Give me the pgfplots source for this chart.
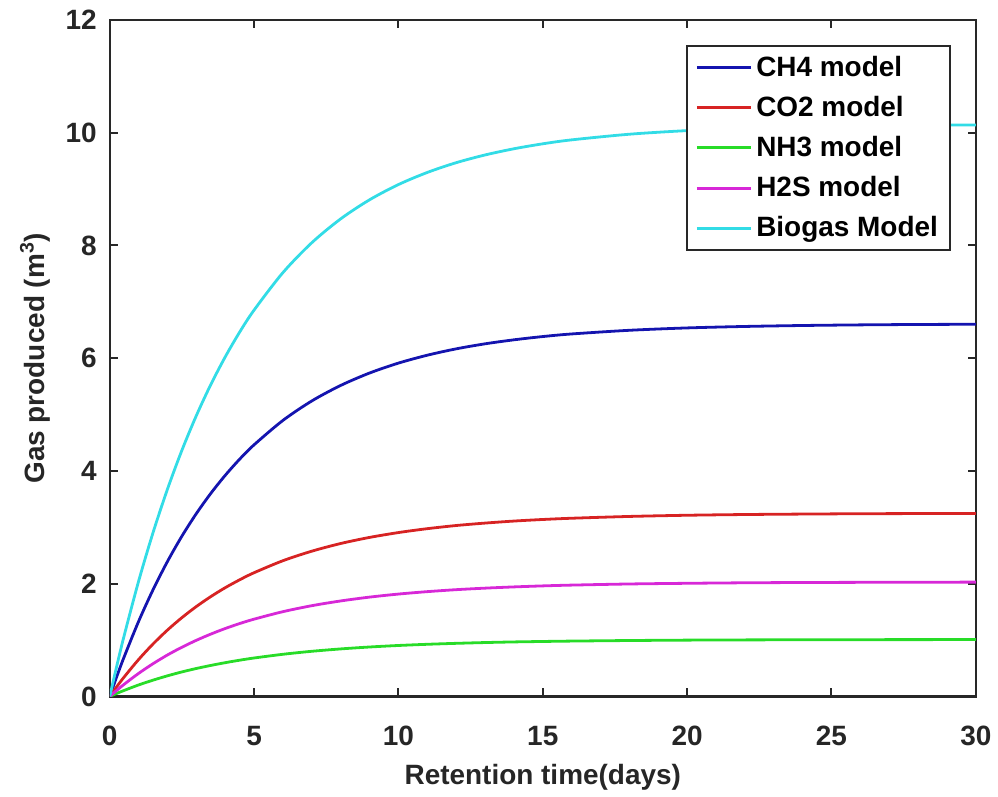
\documentclass[border=0pt]{standalone}
\usepackage{fontspec}
\setmainfont{Liberation Sans}
\usepackage{pgfplots}
\pgfplotsset{compat=1.18}
\usepackage{pgfplotstable}

\definecolor{ch4col}{RGB}{20,20,175}
\definecolor{co2col}{RGB}{215,35,35}
\definecolor{nh3col}{RGB}{40,220,40}
\definecolor{h2scol}{RGB}{215,40,215}
\definecolor{biocol}{RGB}{50,220,230}
\definecolor{axisgray}{RGB}{40,40,40}

% retention time (days) vs gas produced (m^3)
\pgfplotstableread{
t    ch4   co2   nh3   h2s   bio
0    0     0     0     0     0
0.25 0.362 0.178 0.055 0.111 0.555
0.5  0.703 0.346 0.107 0.216 1.080
1    1.332 0.655 0.204 0.409 2.045
1.5  1.893 0.931 0.289 0.581 2.907
2    2.395 1.178 0.366 0.736 3.678
2.5  2.844 1.398 0.435 0.873 4.367
3    3.244 1.595 0.496 0.996 4.982
3.5  3.602 1.771 0.550 1.106 5.532
4    3.922 1.929 0.599 1.205 6.023
4.5  4.209 2.069 0.643 1.293 6.463
5    4.464 2.195 0.682 1.371 6.854
6    4.897 2.408 0.748 1.504 7.519
7    5.242 2.577 0.801 1.610 8.049
8    5.517 2.713 0.843 1.694 8.472
9    5.737 2.821 0.877 1.762 8.810
10   5.913 2.907 0.904 1.816 9.080
11   6.053 2.976 0.925 1.859 9.295
12   6.166 3.032 0.942 1.894 9.468
13   6.255 3.075 0.956 1.921 9.605
14   6.326 3.111 0.967 1.943 9.715
15   6.384 3.139 0.975 1.961 9.803
16   6.430 3.161 0.982 1.975 9.873
18   6.495 3.193 0.992 1.995 9.973
20   6.537 3.214 0.999 2.007 10.037
22   6.563 3.227 1.003 2.016 10.078
24   6.580 3.235 1.005 2.021 10.104
26   6.591 3.241 1.007 2.024 10.121
28   6.598 3.244 1.008 2.026 10.132
30   6.602 3.246 1.009 2.028 10.138
}\gasdata

\newcommand{\figfont}{\fontsize{14}{16.5}\bfseries\selectfont}

\begin{document}
\begin{tikzpicture}
\begin{axis}[
    scale only axis, width=434pt, height=339pt,
    xmin=0, xmax=30, ymin=0, ymax=12,
    xtick={0,5,...,30}, ytick={0,2,...,12},
    tick align=inside, major tick length=4pt,
    tick style={line width=1pt, color=axisgray},
    axis line style={line width=1.2pt, color=axisgray},
    /pgf/number format/assume math mode=true,
    tick label style={font=\figfont, color=black!85},
    xticklabel style={yshift=-11.5pt},
    yticklabel style={xshift=-3pt},
    label style={font=\figfont, color=black!85},
    xlabel={Retention time(days)},
    ylabel={Gas produced (m\textsuperscript{3})},
    xlabel style={at={(axis description cs:0.5,-0.1195)}, anchor=center},
    ylabel style={at={(axis description cs:-0.0864,0.5)}, anchor=center},
    legend style={at={(0.9712,0.9631)}, anchor=north east,
      font=\figfont, draw=axisgray, line width=1pt,
      inner xsep=4pt, inner ysep=3pt, row sep=4.5pt,
      cells={anchor=west}},
    legend image code/.code={\draw[#1, line width=1.5pt] (0pt,0pt) -- (27pt,0pt);},
    every axis plot/.append style={line width=1.4pt},
  ]
  \addplot[ch4col, smooth] table[x=t, y=ch4] {\gasdata};
  \addlegendentry{CH4 model}
  \addplot[co2col, smooth] table[x=t, y=co2] {\gasdata};
  \addlegendentry{CO2 model}
  \addplot[nh3col, smooth] table[x=t, y=nh3] {\gasdata};
  \addlegendentry{NH3 model}
  \addplot[h2scol, smooth] table[x=t, y=h2s] {\gasdata};
  \addlegendentry{H2S model}
  \addplot[biocol, smooth] table[x=t, y=bio] {\gasdata};
  \addlegendentry{Biogas Model}
\end{axis}
\path ([shift={(-55pt,-50pt)}]current axis.south west)
  rectangle ([shift={(10pt,10pt)}]current axis.north east);
\end{tikzpicture}
\end{document}
